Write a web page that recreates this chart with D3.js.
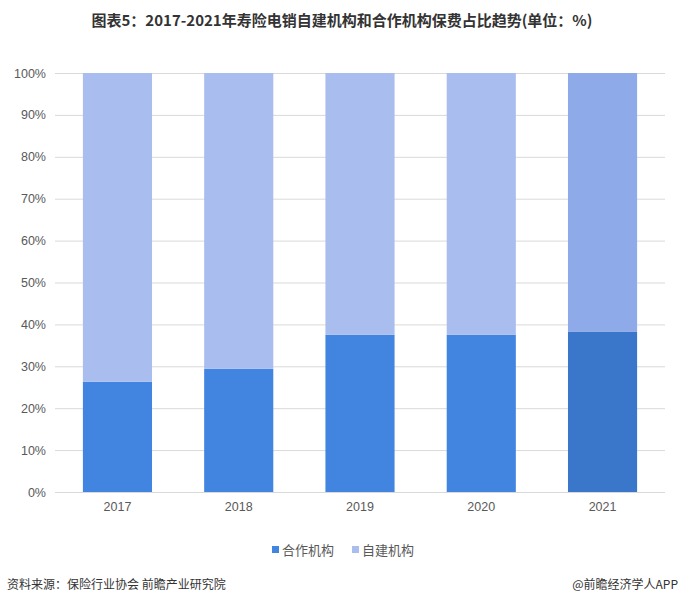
<!DOCTYPE html>
<html><head><meta charset="utf-8">
<script src="https://cdn.jsdelivr.net/npm/d3@7"></script>
<style>body{margin:0;background:#fff;}svg{display:block;font-family:"Noto Sans CJK SC","Microsoft YaHei",sans-serif;}</style>
</head><body>
<svg id="c" width="684" height="606"></svg>
<script>
const years = ["2017","2018","2019","2020","2021"];
const coop = [26.3, 29.4, 37.5, 37.5, 38.2];
const self = [73.7, 70.6, 62.5, 62.5, 61.8];
const yTicks = [0,10,20,30,40,50,60,70,80,90,100];
const seriesNames = ["合作机构","自建机构"];

const svg = d3.select("#c");
const W=684,H=606;
const m={l:55,r:19,t:73,b:114};
const x = d3.scaleBand().domain(years).range([m.l, W-m.r]).paddingInner(0.43).paddingOuter(0.23);
const y = d3.scaleLinear().domain([0,100]).range([492,73]);

svg.append("text").attr("x",342).attr("y",26).attr("text-anchor","middle")
  .attr("font-size",15).attr("font-weight","bold").attr("fill","#333").text("图表5：2017-2021年寿险电销自建机构和合作机构保费占比趋势(单位：%)");

const grid = svg.append("g");
grid.selectAll("line").data(yTicks).join("line")
  .attr("x1",m.l).attr("x2",W-m.r).attr("y1",d=>y(d)+0.5).attr("y2",d=>y(d)+0.5)
  .attr("stroke","#d9d9d9").attr("stroke-width",1);

const yAxis = d3.axisLeft(y).tickValues(yTicks).tickFormat(d=>d+"%").tickSize(0).tickPadding(9);
svg.append("g").attr("transform",`translate(${m.l},0)`).call(yAxis)
  .call(g=>g.select(".domain").remove())
  .selectAll("text").attr("font-size",12.5).attr("fill","#595959").attr("font-family","\"Liberation Sans\",Arial,sans-serif");

const xAxis = d3.axisBottom(x).tickSize(0).tickPadding(10);
svg.append("g").attr("transform",`translate(0,${y(0)})`).call(xAxis)
  .call(g=>g.select(".domain").remove())
  .selectAll("text").attr("font-size",12.5).attr("fill","#595959").attr("font-family","\"Liberation Sans\",Arial,sans-serif");

const bottomCol = (i)=> i===4 ? "#3a77cb" : "#4285e0";
const topCol = (i)=> i===4 ? "#8eaae8" : "#a9bdee";

svg.append("g").selectAll("rect").data(years).join("rect")
  .attr("x",d=>x(d)).attr("width",x.bandwidth())
  .attr("y",(d,i)=>y(coop[i])).attr("height",(d,i)=>y(0)-y(coop[i]))
  .attr("fill",(d,i)=>bottomCol(i));
svg.append("g").selectAll("rect").data(years).join("rect")
  .attr("x",d=>x(d)).attr("width",x.bandwidth())
  .attr("y",(d,i)=>y(coop[i]+self[i])).attr("height",(d,i)=>y(coop[i])-y(coop[i]+self[i]))
  .attr("fill",(d,i)=>topCol(i));

const lg = svg.append("g");
const lx=[272,352];
seriesNames.forEach((n,i)=>{
  lg.append("rect").attr("x",lx[i]).attr("y",546).attr("width",7).attr("height",7).attr("fill",i===0?"#4285e0":"#a9bdee");
  lg.append("text").attr("x",lx[i]+10).attr("y",555).attr("font-size",13).attr("fill","#595959").text(n);
});

svg.append("text").attr("x",7).attr("y",589).attr("font-size",12).attr("fill","#333").text("资料来源：保险行业协会 前瞻产业研究院");
svg.append("text").attr("x",678).attr("y",589).attr("text-anchor","end").attr("font-size",12).attr("fill","#333").text("@前瞻经济学人APP");
</script>
</body></html>
